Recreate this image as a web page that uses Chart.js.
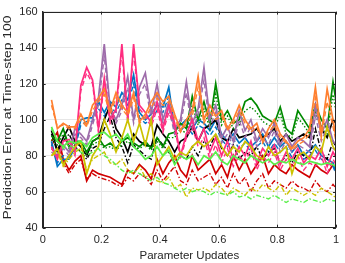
<!DOCTYPE html>
<html>
<head>
<meta charset="utf-8">
<script src="https://cdn.jsdelivr.net/npm/chart.js@4"></script>
<style>
  body { margin: 0; background: #fff; }
  #wrap { width: 345px; height: 263px; position: relative; }
</style>
</head>
<body>
<div id="wrap"><canvas id="chart"></canvas></div>
<script>
// x positions (fraction of parameter updates)
const updates = [0.03, 0.05, 0.07, 0.09, 0.11, 0.13, 0.15, 0.17, 0.19, 0.21,
                 0.23, 0.25, 0.27, 0.29, 0.31, 0.33, 0.35, 0.37, 0.39, 0.41,
                 0.43, 0.45, 0.47, 0.49, 0.51, 0.53, 0.55, 0.57, 0.59, 0.61,
                 0.63, 0.65, 0.67, 0.69, 0.71, 0.73, 0.75, 0.77, 0.79, 0.81,
                 0.83, 0.85, 0.87, 0.89, 0.91, 0.93, 0.95, 0.97, 0.99, 1.01];

const orangeSolid = [111, 95, 98, 96, 96, 103, 97, 108, 112, 117, 105, 115, 108, 104, 115, 99, 103, 110, 115, 110, 113, 103, 94, 100, 105, 124, 100, 108, 102, 105, 95, 100, 108, 100, 95, 98, 88, 95, 100, 92, 88, 84, 88, 90, 95, 118, 92, 117, 100, 80];
const orangeDash = [108, 96, 97, 95, 95, 100, 96, 105, 110, 114, 103, 112, 106, 102, 112, 98, 101, 107, 112, 108, 110, 101, 93, 98, 102, 118, 98, 105, 100, 102, 94, 98, 105, 98, 93, 96, 87, 93, 97, 90, 87, 83, 86, 88, 92, 112, 90, 110, 96, 80];
const limeSolid = [96, 88, 85, 88, 87, 88, 85, 90, 92, 93, 90, 92, 88, 92, 85, 82, 78, 80, 85, 80, 83, 75, 80, 78, 80, 75, 80, 78, 82, 77, 75, 80, 78, 76, 80, 78, 76, 78, 75, 77, 76, 78, 76, 75, 77, 76, 75, 76, 75, 73];
const limeDash = [95, 88, 84, 86, 84, 82, 80, 82, 84, 80, 78, 75, 72, 70, 72, 70, 68, 66, 68, 65, 64, 62, 60, 62, 60, 61, 60, 58, 60, 59, 58, 60, 57, 58, 56, 58, 57, 56, 58, 56, 54, 56, 55, 54, 56, 55, 54, 56, 55, 55];
const yellowSolid = [80, 84, 75, 80, 85, 88, 70, 80, 85, 100, 92, 82, 90, 100, 88, 98, 86, 100, 75, 80, 85, 78, 82, 80, 85, 88, 85, 88, 92, 85, 80, 85, 82, 88, 85, 80, 78, 85, 80, 82, 85, 70, 80, 82, 78, 85, 82, 96, 85, 80];
const yellowDash = [80, 82, 74, 78, 82, 84, 72, 78, 80, 82, 76, 75, 78, 72, 70, 74, 68, 70, 66, 65, 68, 62, 64, 57, 62, 61, 62, 60, 64, 62, 58, 62, 60, 58, 62, 60, 64, 62, 60, 64, 58, 62, 60, 58, 60, 58, 62, 60, 58, 55];
const pinkSolid = [85, 78, 88, 89, 82, 119, 129, 122, 95, 123, 100, 106, 142, 100, 142, 108, 104, 98, 110, 95, 108, 98, 80, 92, 100, 88, 95, 82, 90, 80, 88, 78, 85, 80, 88, 76, 84, 80, 86, 75, 82, 78, 84, 76, 80, 78, 84, 74, 82, 76];
const pinkDash = [84, 80, 86, 87, 80, 116, 126, 120, 93, 120, 98, 104, 138, 98, 138, 106, 102, 96, 106, 93, 104, 96, 78, 90, 96, 85, 90, 78, 86, 76, 84, 74, 80, 76, 84, 72, 80, 76, 82, 72, 78, 74, 80, 72, 76, 74, 80, 70, 78, 72];
const purpleSolid = [84, 80, 86, 82, 95, 92, 88, 100, 112, 142, 106, 100, 108, 124, 100, 118, 126, 104, 120, 100, 110, 95, 100, 121, 98, 106, 129, 100, 108, 90, 96, 88, 105, 94, 100, 88, 95, 90, 98, 86, 92, 85, 90, 88, 85, 108, 92, 100, 88, 85];
const purpleDash = [82, 79, 84, 80, 92, 90, 86, 97, 108, 135, 103, 98, 105, 118, 98, 114, 120, 100, 115, 97, 106, 92, 97, 115, 95, 102, 122, 96, 104, 87, 92, 85, 100, 90, 96, 85, 90, 86, 94, 82, 88, 82, 86, 84, 82, 102, 88, 96, 84, 82];
const greenSolid = [91, 88, 95, 85, 88, 88, 82, 88, 90, 85, 87, 84, 88, 90, 87, 85, 88, 84, 90, 85, 92, 93, 98, 95, 113, 100, 110, 98, 120, 100, 105, 98, 100, 110, 112, 108, 102, 100, 98, 107, 95, 92, 105, 100, 95, 108, 100, 95, 121, 100];
const greenDot = [89, 86, 92, 84, 86, 86, 81, 86, 88, 84, 85, 83, 86, 88, 85, 84, 86, 83, 88, 84, 90, 90, 95, 92, 108, 97, 106, 95, 114, 97, 102, 95, 97, 105, 107, 104, 99, 97, 95, 103, 92, 90, 101, 97, 92, 104, 96, 92, 114, 96];
const blackSolid = [94, 83, 90, 96, 88, 85, 80, 88, 90, 100, 108, 95, 90, 82, 92, 88, 86, 85, 97, 92, 88, 82, 88, 90, 96, 88, 95, 97, 100, 90, 88, 95, 90, 91, 92, 95, 90, 92, 95, 88, 92, 88, 90, 92, 90, 108, 95, 90, 100, 96];
const blackDash = [92, 82, 88, 92, 85, 82, 78, 84, 86, 95, 102, 90, 85, 76, 86, 83, 80, 78, 90, 86, 82, 76, 80, 78, 85, 80, 88, 85, 92, 84, 80, 86, 78, 82, 80, 85, 78, 82, 84, 76, 80, 76, 82, 80, 78, 95, 82, 78, 88, 82];
const blueSolid = [88, 74, 78, 78, 85, 100, 101, 101, 110, 104, 110, 107, 115, 111, 125, 104, 100, 103, 108, 107, 118, 95, 97, 100, 95, 100, 98, 94, 100, 92, 88, 92, 87, 90, 85, 88, 92, 85, 90, 85, 88, 82, 86, 80, 83, 86, 80, 78, 76, 66];
const blueDash = [86, 76, 80, 79, 84, 97, 99, 99, 106, 102, 107, 104, 111, 108, 120, 101, 98, 100, 105, 104, 113, 92, 94, 97, 92, 97, 95, 91, 96, 89, 85, 89, 84, 87, 82, 85, 88, 82, 87, 82, 85, 79, 83, 78, 80, 83, 78, 76, 74, 66];
const redSolid = [88, 93, 78, 72, 77, 80, 66, 72, 70, 69, 68, 66, 64, 72, 70, 75, 72, 67, 78, 70, 76, 80, 72, 68, 80, 72, 75, 78, 70, 75, 68, 80, 72, 78, 70, 75, 80, 70, 75, 72, 70, 75, 72, 70, 68, 75, 72, 70, 75, 68];
const redDash = [86, 90, 76, 70, 75, 78, 67, 70, 68, 67, 66, 64, 63, 68, 66, 70, 68, 64, 72, 66, 70, 74, 66, 64, 72, 66, 68, 70, 64, 68, 62, 70, 64, 68, 60, 66, 70, 62, 66, 64, 62, 66, 63, 62, 60, 66, 62, 60, 64, 60];

const xTicks = [0, 0.2, 0.4, 0.6, 0.8, 1];
const yTicks = [40, 60, 80, 100, 120, 140, 160];
const yTitle = 'Prediction Error at Time-step 100';

const DASH = [5, 3];
const DOT = [1.5, 2];
const DASHDOT = [5, 2, 1.5, 2];

function series(values, color, dash) {
    return {
        data: values.map((v, i) => ({ x: updates[i], y: v })),
        borderColor: color,
        borderWidth: dash.length ? 1.4 : 1.7,
        borderDash: dash,
        pointRadius: 0,
        tension: 0,
        fill: false
    };
}

const AXIS = '#262626';
const FONT = 'Liberation Sans, Arial, sans-serif';

// MATLAB-style box with inward ticks, plus the long y label
const boxPlugin = {
    id: 'box',
    afterDraw(chart) {
        const { ctx, chartArea: a, scales } = chart;
        ctx.save();
        ctx.strokeStyle = AXIS;
        ctx.lineWidth = 1;
        ctx.strokeRect(Math.round(a.left) + 0.5, Math.round(a.top) + 0.5,
            Math.round(a.right - a.left) - 1, Math.round(a.bottom - a.top) - 1);
        ctx.beginPath();
        xTicks.forEach(t => {
            const px = Math.round(scales.x.getPixelForValue(t)) + 0.5;
            ctx.moveTo(px, a.bottom); ctx.lineTo(px, a.bottom - 3);
            ctx.moveTo(px, a.top); ctx.lineTo(px, a.top + 3);
        });
        yTicks.forEach(t => {
            const py = Math.round(scales.y.getPixelForValue(t)) + 0.5;
            ctx.moveTo(a.left, py); ctx.lineTo(a.left + 3, py);
            ctx.moveTo(a.right, py); ctx.lineTo(a.right - 3, py);
        });
        ctx.stroke();

        // y title, stretched along its length like the original
        ctx.font = '11px ' + FONT;
        ctx.fillStyle = AXIS;
        ctx.textAlign = 'center';
        ctx.textBaseline = 'middle';
        const w = ctx.measureText(yTitle).width;
        ctx.translate(8, 117.5);
        ctx.rotate(-Math.PI / 2);
        ctx.scale(204 / w, 1);
        ctx.fillText(yTitle, 0, 0);
        ctx.restore();
    }
};

new Chart(document.getElementById('chart'), {
    type: 'line',
    data: {
        datasets: [
            series(orangeSolid, '#FF8030', []),
            series(orangeDash, '#FF8030', DASH),
            series(limeSolid, '#5AEE4A', []),
            series(limeDash, '#5AEE4A', DASHDOT),
            series(yellowSolid, '#CCC200', []),
            series(yellowDash, '#CCC200', DASHDOT),
            series(pinkSolid, '#FF2D80', []),
            series(pinkDash, '#FF2D80', DASH),
            series(purpleSolid, '#9E6CAA', []),
            series(purpleDash, '#9E6CAA', DASH),
            series(greenSolid, '#008A00', []),
            series(greenDot, '#008A00', DOT),
            series(blackSolid, '#000000', []),
            series(blackDash, '#000000', DASHDOT),
            series(blueSolid, '#0074C4', []),
            series(blueDash, '#0074C4', DASH),
            series(redSolid, '#D00000', []),
            series(redDash, '#D00000', DASHDOT)
        ]
    },
    options: {
        responsive: true,
        maintainAspectRatio: false,
        animation: false,
        layout: { padding: { left: 0, right: 9, top: 7, bottom: 0 } },
        plugins: {
            legend: { display: false },
            tooltip: { enabled: false }
        },
        scales: {
            x: {
                type: 'linear',
                min: 0,
                max: 1,
                afterFit: s => { s.height = 35.3; },
                afterBuildTicks: s => { s.ticks = xTicks.map(v => ({ value: v })); },
                ticks: {
                    color: AXIS,
                    padding: 6,
                    maxRotation: 0,
                    font: { family: FONT, size: 11 },
                    callback: v => String(v)
                },
                grid: { color: '#e6e6e6', drawTicks: false },
                border: { display: true, color: AXIS },
                title: {
                    display: true,
                    text: 'Parameter Updates',
                    color: AXIS,
                    padding: { top: 0, bottom: 0 },
                    font: { family: FONT, size: 11.5 }
                }
            },
            y: {
                min: 40,
                max: 160,
                afterFit: s => { s.width = 42.7; },
                afterBuildTicks: s => { s.ticks = yTicks.map(v => ({ value: v })); },
                ticks: {
                    color: AXIS,
                    padding: 5,
                    font: { family: FONT, size: 11 }
                },
                grid: { color: '#e6e6e6', drawTicks: false },
                border: { display: true, color: AXIS }
            }
        }
    },
    plugins: [boxPlugin]
});
</script>
</body>
</html>
